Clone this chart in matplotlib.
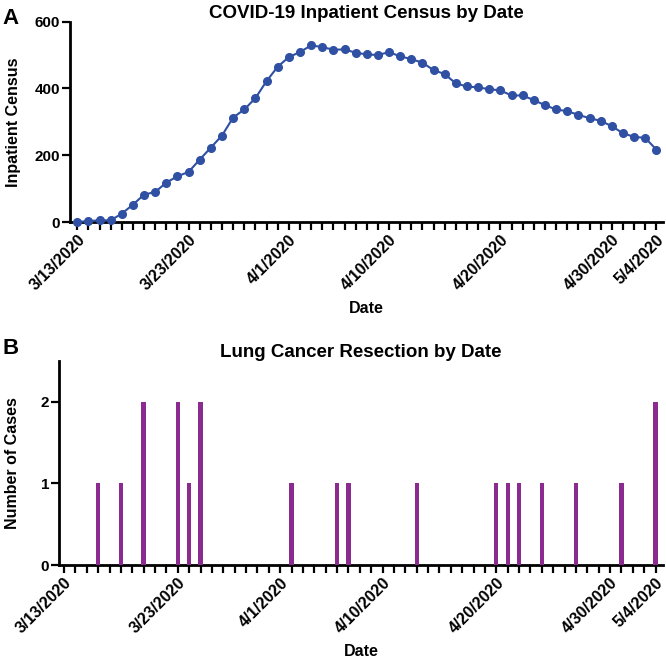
import matplotlib
matplotlib.use("Agg")
import matplotlib.pyplot as plt
import pandas as pd
import matplotlib.dates as mdates

plt.rcParams['font.family'] = ['Liberation Sans', 'DejaVu Sans']
plt.rcParams['font.weight'] = 'bold'

# ---- Data ----
start_date = "2020-03-13"
end_date = "2020-05-04"
census = [0, 3, 5, 5, 25, 52, 82, 90, 118, 137, 150, 187, 223, 259, 313, 337,
          371, 422, 465, 494, 509, 529, 524, 516, 517, 507, 502, 500, 509, 496,
          488, 477, 455, 443, 415, 406, 403, 398, 394, 379, 379, 365, 350, 337,
          332, 321, 311, 303, 287, 266, 255, 252, 217]
resection_dates = ["2020-03-16", "2020-03-18", "2020-03-20", "2020-03-23",
                   "2020-03-24", "2020-03-25", "2020-04-02", "2020-04-06",
                   "2020-04-07", "2020-04-13", "2020-04-20", "2020-04-21",
                   "2020-04-22", "2020-04-24", "2020-04-27", "2020-05-01",
                   "2020-05-04"]
resection_counts = [1, 1, 2, 2, 1, 2, 1, 1, 1, 1, 1, 1, 1, 1, 1, 1, 2]
label_dates = ["2020-03-13", "2020-03-23", "2020-04-01", "2020-04-10",
               "2020-04-20", "2020-04-30", "2020-05-04"]
label_texts = ["3/13/2020", "3/23/2020", "4/1/2020", "4/10/2020",
               "4/20/2020", "4/30/2020", "5/4/2020"]

days = pd.date_range(start_date, end_date, freq="D")
dnum = mdates.date2num(days)
res_num = mdates.date2num(pd.to_datetime(resection_dates))
lab_num = list(mdates.date2num(pd.to_datetime(label_dates)))

blue = "#2f50a3"
purple = "#8b2b8f"

fig = plt.figure(figsize=(6.66, 6.59), dpi=100)
axA = fig.add_axes([0.1051, 0.6631, 0.8904, 0.3040])
axB = fig.add_axes([0.0886, 0.1426, 0.9069, 0.3096])


def style_axes(ax):
    for s in ['top', 'right']:
        ax.spines[s].set_visible(False)
    for s in ['left', 'bottom']:
        ax.spines[s].set_linewidth(2.0)
    ax.tick_params(axis='both', width=1.6, length=5.5, direction='out')
    ax.tick_params(axis='y', labelsize=11, pad=1.5)
    ax.set_xticks(dnum)
    labels = []
    for d in dnum:
        labels.append(label_texts[lab_num.index(d)] if d in lab_num else "")
    ax.set_xticklabels(labels, rotation=45, ha='right', va='top',
                       rotation_mode='anchor', fontweight='bold', fontsize=11.5)
    ax.tick_params(axis='x', pad=2)
    for t in ax.get_yticklabels():
        t.set_fontweight('bold')
    ax.set_xlabel("Date", fontsize=11.5, fontweight='bold', labelpad=5)


# ---- Panel A ----
axA.plot(dnum, census, color=blue, lw=1.5, marker='o', markersize=5.5,
         clip_on=False, zorder=3)
axA.set_ylim(0, 600)
axA.set_yticks([0, 200, 400, 600])
axA.set_xlim(dnum[0] - 0.65, dnum[-1] + 0.6)
style_axes(axA)
axA.set_ylabel("Inpatient Census", fontsize=11.5, fontweight='bold')
axA.yaxis.set_label_coords(-0.083, 0.5)
axA.set_title("COVID-19 Inpatient Census by Date", fontsize=13.5,
              fontweight='bold', pad=3)

# ---- Panel B ----
axB.bar(res_num, resection_counts, width=0.38, color=purple, zorder=3)
axB.set_ylim(0, 2.5)
axB.set_yticks([0, 1, 2])
axB.set_xlim(dnum[0] - 0.44, dnum[-1] + 0.65)
style_axes(axB)
axB.set_ylabel("Number of Cases", fontsize=11.5, fontweight='bold')
axB.yaxis.set_label_coords(-0.064, 0.5)
axB.set_title("Lung Cancer Resection by Date", fontsize=13.5,
              fontweight='bold', pad=3)

fig.text(0.004, 0.988, "A", fontsize=16, fontweight='bold', va='top')
fig.text(0.004, 0.487, "B", fontsize=16, fontweight='bold', va='top')

fig.savefig("out.png", dpi=100)
